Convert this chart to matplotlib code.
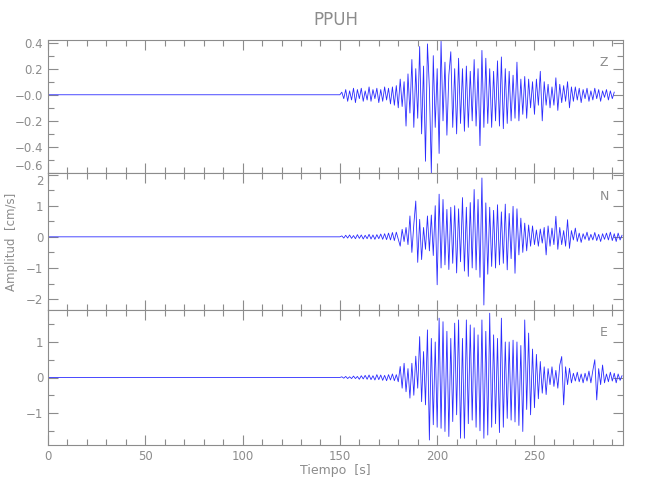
import numpy as np
import matplotlib
matplotlib.use("Agg")
import matplotlib.pyplot as plt
from matplotlib.ticker import MultipleLocator

# --- data: turning points of each trace, one value per second from t0 ---
t0 = 150.0
dt = 1.0

z_vals = [0.00, 0.02, -0.03, 0.04, -0.05, 0.03, -0.04, 0.05, -0.06, 0.04,
          -0.03, 0.05, -0.05, 0.03, -0.04, 0.06, -0.05, 0.04, -0.03, 0.05,
          -0.06, 0.04, -0.05, 0.06, -0.04, 0.05, -0.07, 0.06, -0.08, 0.07,
          -0.10, 0.12, -0.09, 0.10, -0.24, 0.16, -0.14, 0.27, -0.25, 0.20,
          -0.18, 0.37, -0.30, 0.22, -0.51, 0.39, 0.05, -0.60, 0.30, -0.25,
          0.20, -0.45, 0.41, -0.20, 0.25, -0.31, 0.15, 0.33, -0.25, 0.20,
          -0.30, 0.28, -0.22, 0.20, -0.28, 0.22, -0.25, 0.18, -0.20, 0.27,
          -0.24, 0.20, -0.39, 0.34, -0.25, 0.28, -0.22, 0.20, -0.25, 0.18,
          -0.20, 0.26, -0.24, 0.29, -0.26, 0.20, -0.22, 0.18, -0.20, 0.15,
          -0.18, 0.25, -0.20, 0.12, -0.15, 0.14, -0.18, 0.12, -0.10, 0.10,
          -0.15, 0.12, -0.08, 0.18, -0.20, 0.10, -0.08, 0.08, -0.10, 0.06,
          -0.08, 0.13, -0.12, 0.08, -0.06, 0.07, -0.05, 0.10, -0.10, 0.06,
          -0.05, 0.06, -0.04, 0.05, -0.06, 0.04, -0.03, 0.05, -0.05, 0.03,
          -0.04, 0.05, -0.03, 0.04, -0.05, 0.03, -0.02, 0.04, -0.04, 0.03,
          -0.03, 0.02]

n_vals = [0.00, 0.03, -0.04, 0.05, -0.04, 0.06, -0.05, 0.04, -0.06, 0.07,
          -0.05, 0.06, -0.07, 0.05, -0.06, 0.08, -0.07, 0.06, -0.08, 0.07,
          -0.06, 0.09, -0.08, 0.10, -0.09,
          0.12, -0.10, 0.14, -0.12, 0.15, -0.08, -0.30, 0.24, -0.15, 0.30,
          -0.25, 0.67, -0.50, 0.40, 1.15, -0.82, 0.56, -0.73, 0.30, -0.40,
          0.67, -0.45, 0.70, -0.60, 1.00,
          -1.54, 1.37, -1.00, 1.20, -0.90, 0.88, -1.05, 0.95, -0.85, 1.00,
          -1.16, 0.90, -0.80, 1.26, -1.10, 0.95, -1.27, 1.10, -1.00, 1.52,
          -1.06, 1.20, -1.30, 1.89, -2.19, 1.09, -1.20, 0.95, -0.95, 0.85,
          -1.00, 1.03, -0.90, 0.80, -0.85, 1.05, -1.06, 0.75, -0.70, 0.98,
          -1.17, 0.90, -0.58, 0.60, -0.50, 0.44, -0.45, 0.38, -0.30, 0.35,
          -0.25, 0.22, -0.30, 0.25, -0.20, 0.30, -0.58, 0.35, -0.30, 0.28,
          -0.25, 0.66, -0.40, 0.30, -0.25, 0.20, -0.30, 0.55, -0.37, 0.20,
          -0.10, 0.28, -0.15, 0.12, -0.18, 0.10, -0.08, 0.15, -0.12, 0.08,
          -0.10, 0.14, -0.12, 0.08, -0.15, 0.10, -0.08, 0.12, -0.10, 0.15,
          -0.12, 0.10, -0.15, 0.12, -0.10, 0.05]

e_vals = [0.00, 0.02, -0.02, 0.03, -0.03, 0.02, -0.03, 0.04, -0.03, 0.03,
          -0.05, 0.05, -0.04, 0.06, -0.05, 0.07, -0.06, 0.05, -0.07, 0.08,
          -0.06, 0.07, -0.08, 0.06, -0.09, 0.08, -0.07, 0.10, -0.09, 0.08,
          -0.12, 0.31, -0.30, 0.40, -0.40, 0.25, -0.58, 0.40, -0.50, 0.60,
          -0.30, 1.15, -0.68, 0.73, -0.77, 1.34, -1.76, 1.10, -1.33, 1.00,
          -1.40, 1.67, -1.43, 1.57, -1.52, 1.30, -1.66, 1.10, -1.24, 1.53,
          -1.05, 1.62, -1.71, 1.10, -1.71, 1.62, -1.30, 1.48, -1.20, 1.40,
          -1.40, 1.20, -1.50, 1.62, -1.71, 1.30, -1.62, 1.81, -1.40, 1.20,
          -1.30, 1.10, -1.55, 1.67, -1.40, 1.00, -1.15, 1.00, -1.20, 1.05,
          -1.25, 1.00, -1.35, 0.90, -1.52, 1.62, -0.90, 1.25, -1.05, 0.80,
          -0.85, 0.65, -0.60, 0.45, -0.44, 0.30, -0.48, 0.25, -0.20, 0.30,
          -0.25, 0.20, -0.30, 0.35, 0.59, -0.77, 0.30, -0.20, 0.26, -0.15,
          0.12, -0.10, 0.15, -0.12, 0.10, -0.15, 0.12, -0.10, 0.18, -0.15,
          0.20, 0.50, -0.63, 0.25, -0.20, 0.35, -0.15, 0.10, -0.12, 0.15,
          -0.10, 0.12, -0.15, 0.10, -0.08, 0.05]

traces = [("Z", z_vals), ("N", n_vals), ("E", e_vals)]
ylims = [(-0.6, 0.42), (-2.35, 2.05), (-1.9, 1.9)]
yticks = [[-0.6, -0.4, -0.2, 0.0, 0.2, 0.4], [-2, -1, 0, 1, 2], [-1, 0, 1]]
ytick_labels = [["\u22120.6", "\u22120.4", "\u22120.2", "\u22120.0", "0.2", "0.4"],
                ["\u22122", "\u22121", "0", "1", "2"],
                ["\u22121", "0", "1"]]
yminor = [0.1, 0.5, 0.5]

grey = "#8c8c8c"
plt.rcParams["font.family"] = ["DejaVu Sans"]

fig = plt.figure(figsize=(6.5, 5.0), dpi=100)
left, width = 48 / 650, (623 - 48) / 650
rows = [(40, 173), (173, 310), (310, 445)]

axes = []
for i, ((name, vals), (top, bot)) in enumerate(zip(traces, rows)):
    ax = fig.add_axes([left, 1 - bot / 500, width, (bot - top) / 500])
    vals = np.array(vals)
    t = t0 + dt * np.arange(len(vals))
    # quiet part before the arrival
    t_full = np.concatenate([[0.0], t])
    v_full = np.concatenate([[0.0], vals])
    ax.plot(t_full, v_full, color="#2b2bff", lw=0.6)

    ax.set_xlim(0, 295.5)
    ax.set_ylim(*ylims[i])
    ax.set_yticks(yticks[i])
    ax.set_yticklabels(ytick_labels[i])
    ax.yaxis.set_minor_locator(MultipleLocator(yminor[i]))
    ax.xaxis.set_major_locator(MultipleLocator(50))
    ax.xaxis.set_minor_locator(MultipleLocator(10))
    ax.tick_params(which="both", direction="in", top=True, right=True,
                   colors=grey, labelsize=8.5, labelcolor=grey, width=0.8)
    ax.tick_params(which="major", length=7)
    ax.tick_params(which="minor", length=4)
    for s in ax.spines.values():
        s.set_color(grey)
        s.set_linewidth(0.8)
    if i < 2:
        ax.tick_params(labelbottom=False)
    ax.text(0.967, 0.83, name, transform=ax.transAxes, color=grey,
            fontsize=9, ha="center", va="center")
    axes.append(ax)

# edge labels shared by neighbouring panels: keep them from colliding
labs = axes[0].get_yticklabels()
labs[0].set_va("bottom")
labs = axes[1].get_yticklabels()
labs[-1].set_va("top")

axes[1].set_ylabel("Amplitud  [cm/s]", color=grey, fontsize=8.5)
axes[1].yaxis.set_label_coords(-0.052, 0.5)
axes[2].set_xlabel("Tiempo  [s]", color=grey, fontsize=9, labelpad=1)
fig.text(left + width / 2, 1 - 20 / 500, "PPUH", color=grey, fontsize=12,
         ha="center", va="center")

fig.savefig("out.png", dpi=100)
